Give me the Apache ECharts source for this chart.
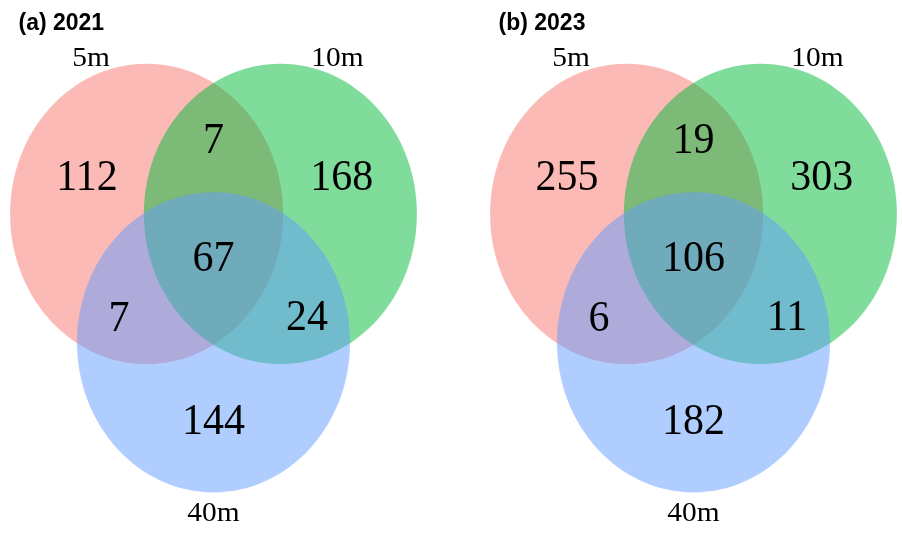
<!DOCTYPE html>
<html>
<head>
<meta charset="utf-8">
<script src="https://cdn.jsdelivr.net/npm/echarts@6/dist/echarts.min.js"></script>
<style>
  html, body { margin: 0; padding: 0; background: #ffffff; }
  #chart { width: 902px; height: 533px; }
</style>
</head>
<body>
<div id="chart"></div>
<script>
// Sets and panel captions
const setNames = ['5m', '10m', '40m'];
const panelTitles = ['(a) 2021', '(b) 2023'];

// Region order: 5m only, 5m∩10m, 10m only, 5m∩40m, all three, 10m∩40m, 40m only
const regionNames = ['5m', '5m∩10m', '10m', '5m∩40m', '5m∩10m∩40m', '10m∩40m', '40m'];
const counts2021 = [112, 7, 168, 7, 67, 24, 144];
const counts2023 = [255, 19, 303, 6, 106, 11, 182];
const panelCounts = [counts2021, counts2023];

// Venn layout in ellipse-radius units (y grows downward)
const setCenters = [[-0.49, 0], [0.49, 0], [0, 0.94]];
const setRadii = [1, 1.1];
const setColors = ['#F8766D', '#00BA38', '#619CFF'];
const setLabelPos = [[-0.897, -1.136], [0.908, -1.136], [0, 2.198]];
const regionLabelPos = [
  [-0.927, -0.264], [0, -0.535], [0.94, -0.264],
  [-0.692, 0.769], [0, 0.33], [0.685, 0.762], [0, 1.524]
];

const unit = 136.5;            // pixels per layout unit
const panelCenterX = [213.5, 693.5];
const xRange = [-1.5, 1.5];
const yRange = [-1.3, 2.3];
const originY = 214;

const grids = [], xAxes = [], yAxes = [], series = [], titles = [];

panelTitles.forEach((t, p) => {
  grids.push({
    left: panelCenterX[p] + xRange[0] * unit,
    top: originY + yRange[0] * unit,
    width: (xRange[1] - xRange[0]) * unit,
    height: (yRange[1] - yRange[0]) * unit
  });
  xAxes.push({ gridIndex: p, type: 'value', min: xRange[0], max: xRange[1], show: false });
  yAxes.push({ gridIndex: p, type: 'value', min: yRange[0], max: yRange[1], inverse: true, show: false });

  titles.push({
    text: t,
    left: panelCenterX[p] - 195,
    top: 12,
    padding: 0,
    textStyle: { fontFamily: 'Liberation Sans, Arial, sans-serif', fontWeight: 'bold', fontSize: 23, color: '#000' }
  });

  // Set ellipses, drawn in order so the overlaps blend
  series.push({
    type: 'custom',
    xAxisIndex: p, yAxisIndex: p,
    clip: false,
    silent: true,
    data: setNames.map((n, i) => ({ name: n, value: [setCenters[i][0], setCenters[i][1], i] })),
    renderItem: (params, api) => {
      const c = api.coord([api.value(0), api.value(1)]);
      const s = api.size([setRadii[0], setRadii[1]]);
      const i = api.value(2);
      return {
        type: 'ellipse',
        shape: { cx: c[0], cy: c[1], rx: s[0], ry: s[1] },
        style: { fill: setColors[i], opacity: 0.5 }
      };
    }
  });

  // Set names around the diagram
  series.push({
    type: 'custom',
    xAxisIndex: p, yAxisIndex: p,
    clip: false,
    silent: true,
    data: setNames.map((n, i) => ({ name: n, value: [setLabelPos[i][0], setLabelPos[i][1]] })),
    renderItem: (params, api) => {
      const c = api.coord([api.value(0), api.value(1)]);
      return {
        type: 'text',
        x: c[0], y: c[1],
        scaleX: 1.05,
        style: {
          text: setNames[params.dataIndex],
          font: '28px "Liberation Serif", "Times New Roman", serif',
          fill: '#000', align: 'center', verticalAlign: 'middle'
        }
      };
    }
  });

  // Region counts
  const counts = panelCounts[p];
  series.push({
    type: 'custom',
    xAxisIndex: p, yAxisIndex: p,
    clip: false,
    silent: true,
    data: regionNames.map((n, i) => ({ name: n, value: [regionLabelPos[i][0], regionLabelPos[i][1], counts[i]] })),
    renderItem: (params, api) => {
      const c = api.coord([api.value(0), api.value(1)]);
      return {
        type: 'text',
        x: c[0], y: c[1],
        scaleY: 1.05,
        style: {
          text: String(api.value(2)),
          font: '42px "Liberation Serif", "Times New Roman", serif',
          fill: '#000', align: 'center', verticalAlign: 'middle'
        }
      };
    }
  });
});

const chart = echarts.init(document.getElementById('chart'), null, { renderer: 'canvas' });
chart.setOption({
  backgroundColor: '#ffffff',
  animation: false,
  title: titles,
  grid: grids,
  xAxis: xAxes,
  yAxis: yAxes,
  series: series
});
</script>
</body>
</html>
